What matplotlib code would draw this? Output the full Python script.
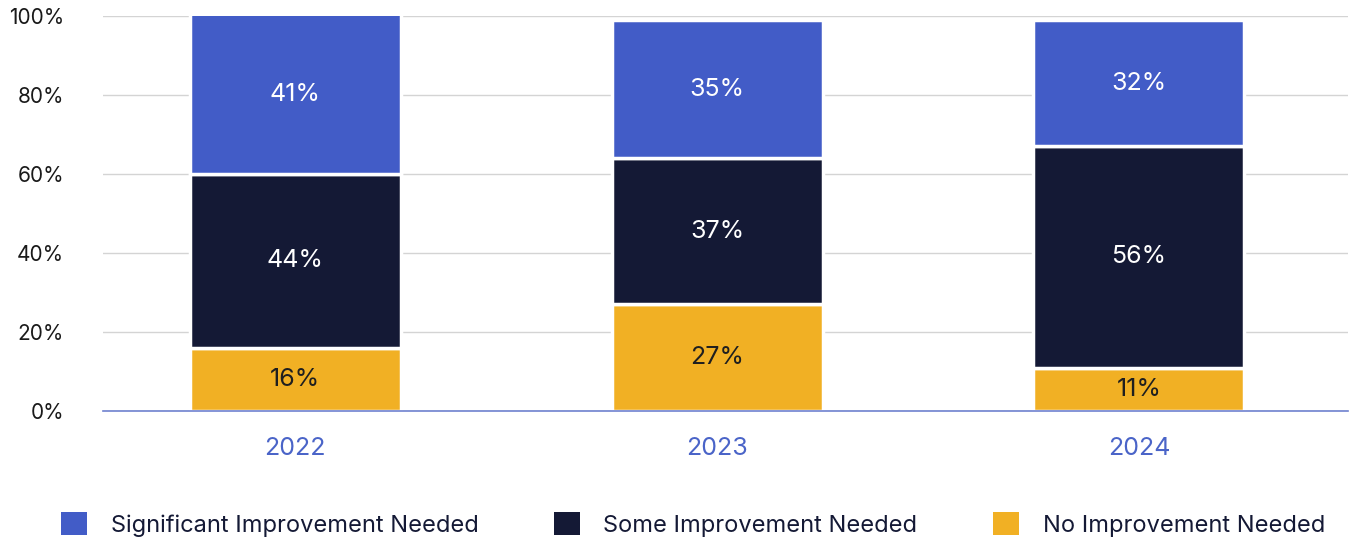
import matplotlib.pyplot as plt
from matplotlib.patches import Patch
import numpy as np

# Survey shares per year (percent)
years = ['2022', '2023', '2024']
no_improvement = [16, 27, 11]
some_improvement = [44, 37, 56]
significant_improvement = [41, 35, 32]

series_names = ['Significant Improvement Needed', 'Some Improvement Needed', 'No Improvement Needed']

# Colours
blue = '#425CC7'
navy = '#141935'
yellow = '#F1B024'

plt.rcParams['font.family'] = ['Inter', 'DejaVu Sans']

fig = plt.figure(figsize=(13.56, 5.44), dpi=100)
ax = fig.add_axes([0.076, 0.2445, 0.918, 0.7261])

x = np.arange(len(years))
width = 0.5

stacks = [
    (no_improvement, yellow, '#1f1f1f'),
    (some_improvement, navy, 'white'),
    (significant_improvement, blue, 'white'),
]

bottom = np.zeros(len(years))
for values, color, text_color in stacks:
    vals = np.array(values, dtype=float)
    ax.bar(x, vals, width, bottom=bottom, color=color,
           edgecolor='white', linewidth=2.5, zorder=3)
    for xi, b, v in zip(x, bottom, vals):
        mid = min(b + v / 2, (b + 100) / 2)
        ax.text(xi, mid, f'{int(v)}%', ha='center', va='center',
                fontsize=18, color=text_color, zorder=4)
    bottom += vals

ax.set_xlim(-0.455, 2.495)
ax.set_ylim(0, 100)
ax.set_yticks(range(0, 101, 20))
ax.set_yticklabels([f'{t}%' for t in range(0, 101, 20)])
ax.set_xticks(x)
ax.set_xticklabels(years)

ax.tick_params(axis='y', length=0, pad=28, labelsize=15, labelcolor='#1a1a1a')
ax.tick_params(axis='x', length=0, pad=19, labelsize=18, labelcolor='#4A64C8')

ax.grid(axis='y', color='#d4d4d4', linewidth=1, zorder=0)
for side in ['top', 'right', 'left']:
    ax.spines[side].set_visible(False)
ax.spines['bottom'].set_color('#6F82CF')
ax.spines['bottom'].set_linewidth(1.2)
ax.spines['bottom'].set_zorder(5)

handles = [Patch(facecolor=c) for c in [blue, navy, yellow]]
fig.legend(handles, series_names, loc='center', bbox_to_anchor=(0.511, 0.036),
           ncol=3, frameon=False, fontsize=17, handlelength=1.1, handleheight=1.1,
           handletextpad=1.0, columnspacing=3.2, labelcolor='#141935')

fig.savefig('out.png', dpi=100)
